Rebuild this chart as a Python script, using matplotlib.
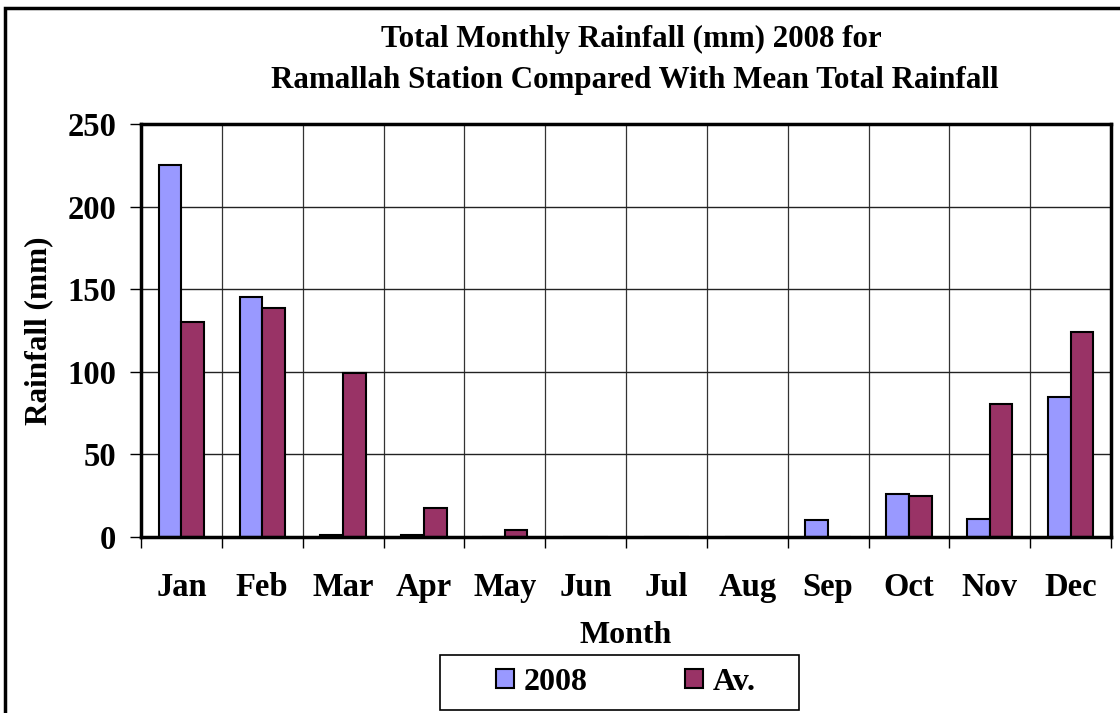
import matplotlib
matplotlib.use('Agg')
import matplotlib.pyplot as plt
from matplotlib.patches import Rectangle
import numpy as np

months = ['Jan', 'Feb', 'Mar', 'Apr', 'May', 'Jun',
          'Jul', 'Aug', 'Sep', 'Oct', 'Nov', 'Dec']
rain_2008 = [225, 145, 1, 1, 0, 0, 0, 0, 10.5, 26, 11, 85]
rain_avg = [130, 138.5, 99, 17.5, 4.5, 0, 0, 0, 0, 25, 80.5, 124]

col_2008 = '#9999FF'
col_avg = '#993366'

plt.rcParams['font.family'] = 'Liberation Serif'
plt.rcParams['font.weight'] = 'bold'


def main():
    fig = plt.figure(figsize=(11.2, 7.13), dpi=100)
    ax = fig.add_axes([0.1259, 0.2468, 0.8661, 0.5793])

    # outer frame of the chart object (cut off at right/bottom)
    fig.patches.append(Rectangle((5 / 1120, -0.1), 1.2, 1.1 - 8 / 713,
                                 transform=fig.transFigure, fill=False,
                                 edgecolor='black', linewidth=2.5))

    x = np.arange(len(months))
    w = 0.28
    ax.bar(x - w / 2, rain_2008, w, color=col_2008, edgecolor='black',
           linewidth=1.5, label='2008', zorder=3)
    ax.bar(x + w / 2, rain_avg, w, color=col_avg, edgecolor='black',
           linewidth=1.5, label='Av.', zorder=3)

    ax.set_xlim(-0.5, 11.5)
    ax.set_ylim(0, 250)
    ax.set_yticks(range(0, 251, 50))
    ax.set_xticks(x)
    ax.set_xticklabels(months)
    ax.set_xticks(np.arange(-0.5, 12, 1), minor=True)

    ax.tick_params(axis='x', which='major', length=0, pad=25, labelsize=23.5)
    ax.tick_params(axis='x', which='minor', length=8, width=1, direction='out')
    ax.tick_params(axis='y', length=8, width=1, direction='out', pad=10,
                   labelsize=23.5)

    ax.grid(True, axis='y', color='#222222', linewidth=1, zorder=0)
    ax.grid(True, axis='x', which='minor', color='#333333', linewidth=0.9,
            zorder=0)
    ax.set_axisbelow(True)
    for s in ax.spines.values():
        s.set_linewidth(2.5)
        s.set_zorder(4)

    ax.set_xlabel('Month', fontsize=23, fontweight='bold', labelpad=13)
    ax.set_ylabel('Rainfall (mm)', fontsize=22.5, fontweight='bold', labelpad=10)

    fig.text(0.564, 0.944, 'Total Monthly Rainfall (mm) 2008 for',
             ha='center', va='center', fontsize=22.3, fontweight='bold')
    fig.text(0.5665, 0.887, 'Ramallah Station Compared With Mean Total Rainfall',
             ha='center', va='center', fontsize=22.3, fontweight='bold')

    # legend box drawn separately (Excel-style wide padding)
    fig.patches.append(Rectangle((440 / 1120, 1 - 710 / 713), 359 / 1120,
                                 55 / 713, transform=fig.transFigure,
                                 fill=False, edgecolor='black', linewidth=1.2))
    fig.legend(loc='center', bbox_to_anchor=(0.559, 0.043), ncol=2,
               fontsize=23, frameon=False, handlelength=0.56,
               handleheight=0.56, columnspacing=3.05, handletextpad=0.3,
               borderpad=0.2)

    fig.savefig('out.png', dpi=100)


if __name__ == '__main__':
    main()
